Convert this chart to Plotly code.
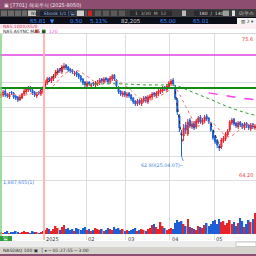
import plotly.graph_objects as go
import pandas as pd

# ---------------- data ----------------
month_start_idx = [21, 41, 60, 81, 102]
month_labels = ["2025", "02", "03", "04", "05"]

opens = [68.8,68.9,69.3,69.0,68.7,69.2,69.1,68.8,68.7,68.4,68.6,69.0,69.2,69.4,69.7,69.4,69.2,68.8,69.2,69.0,
         69.2,69.7,70.1,70.6,70.3,70.5,70.8,71.1,71.5,71.2,71.6,71.9,71.7,71.5,71.4,71.0,71.2,71.0,70.8,70.5,
         70.2,69.8,70.2,69.8,70.1,69.9,70.0,70.1,70.5,70.2,70.6,70.5,70.2,70.5,70.9,70.4,69.7,69.3,68.9,69.2,
         68.8,69.1,68.9,68.6,68.3,68.0,68.4,68.0,68.3,68.7,68.2,68.6,68.7,69.1,68.8,69.0,69.2,69.3,69.7,69.4,
         69.7,70.0,70.4,69.7,68.4,66.8,65.0,64.8,65.9,65.0,66.4,65.7,66.1,65.7,66.2,66.7,66.1,66.3,66.8,66.6,
         66.1,65.3,64.8,64.4,63.8,63.7,64.3,64.5,64.9,65.4,66.1,66.5,66.1,65.7,66.2,66.0,65.6,66.1,65.9,65.5,
         66.0,65.6]
closes = [69.0,69.2,68.9,68.8,69.0,69.1,68.7,68.6,68.4,68.7,69.0,69.3,69.5,69.6,69.4,69.1,68.9,69.0,69.1,69.3,
          69.6,70.2,70.5,70.4,70.6,70.8,71.2,71.4,71.3,71.7,71.8,71.6,71.4,71.3,71.2,71.1,70.9,70.7,70.4,70.1,
          69.9,70.1,70.0,69.9,70.0,70.1,70.2,70.4,70.3,70.5,70.4,70.2,70.6,70.8,70.5,69.8,69.2,69.0,69.1,68.9,
          69.0,68.8,68.5,68.2,68.0,68.3,68.1,68.4,68.6,68.3,68.7,68.8,69.0,68.9,69.1,69.3,69.4,69.6,69.5,69.8,
          70.1,70.3,70.0,68.6,67.2,65.6,64.9,65.6,65.4,66.2,65.8,66.0,65.6,66.3,66.6,66.2,66.4,66.7,66.5,66.2,
          65.4,64.6,64.2,63.9,63.6,64.4,64.6,65.0,65.3,66.2,66.4,66.0,65.8,66.1,65.9,65.7,66.0,65.8,65.6,65.9,
          65.7,65.8]
highs = [69.2,69.4,69.5,69.1,69.2,69.3,69.2,68.9,68.8,68.9,69.1,69.5,69.7,69.8,69.8,69.5,69.3,69.2,69.3,69.5,
         69.8,70.4,70.7,70.7,70.8,71.0,71.4,71.6,71.6,71.9,72.1,72.0,71.8,71.6,71.5,71.3,71.3,71.1,70.9,70.6,
         70.3,70.3,70.3,70.1,70.2,70.3,70.4,70.6,70.6,70.7,70.7,70.6,70.8,71.0,71.0,70.5,69.8,69.4,69.3,69.3,
         69.2,69.2,69.0,68.7,68.4,68.5,68.5,68.6,68.8,68.8,68.9,69.0,69.2,69.2,69.3,69.5,69.6,69.8,69.8,70.0,
         70.3,70.5,70.6,69.9,68.6,67.0,65.4,66.0,66.2,66.5,66.6,66.3,66.3,66.5,66.8,66.9,66.6,66.9,67.0,66.7,
         66.2,65.4,64.9,64.5,64.0,64.6,64.8,65.2,65.5,66.4,66.6,66.6,66.2,66.3,66.3,66.1,66.2,66.2,66.0,66.1,
         66.1,66.0]
lows = [68.6,68.7,68.7,68.6,68.5,68.9,68.5,68.4,68.2,68.3,68.5,68.8,69.0,69.2,69.2,68.9,68.7,68.6,68.9,68.8,
        69.0,69.5,69.9,70.2,70.1,70.3,70.6,70.9,71.1,71.0,71.4,71.4,71.2,71.1,71.0,70.8,70.7,70.5,70.2,69.9,
        69.7,69.6,69.8,69.6,69.8,69.7,69.8,69.9,70.1,70.0,70.2,70.0,70.0,70.3,70.3,69.6,69.0,68.8,68.7,68.7,
        68.6,68.6,68.3,68.0,67.8,67.8,67.9,67.8,68.1,68.1,68.0,68.4,68.5,68.7,68.6,68.8,69.0,69.1,69.3,69.2,
        69.5,69.8,69.8,68.4,66.9,65.2,62.8,64.3,65.0,64.8,65.6,65.5,65.4,65.5,66.0,66.0,65.9,66.1,66.3,66.0,
        65.2,64.4,64.0,63.6,63.3,63.5,64.1,64.3,64.7,65.2,65.9,65.8,65.6,65.5,65.7,65.5,65.4,65.6,65.4,65.3,
        65.5,65.4]
volumes_m = [0.2,0.1,0.2,0.3,0.1,0.2,0.2,0.3,0.2,0.1,0.2,0.3,0.2,0.2,0.1,0.3,0.2,0.2,0.1,0.2,0.3,
             0.4,0.6,0.5,0.3,0.5,0.8,0.6,0.4,0.7,0.9,0.5,0.6,0.4,0.5,0.3,0.6,0.5,0.4,0.6,0.7,
             0.4,0.5,0.3,0.4,0.6,0.5,0.4,0.5,0.3,0.4,0.6,0.5,0.4,0.7,0.5,0.6,0.4,0.5,0.3,0.4,
             0.3,0.4,0.5,0.6,0.3,0.4,0.5,0.4,0.3,0.5,0.6,0.9,1.0,0.7,0.5,1.2,0.8,0.6,0.4,0.5,
             0.6,0.5,1.1,1.4,1.2,1.3,1.0,0.8,1.5,0.7,0.6,0.5,0.4,0.8,0.7,0.6,0.9,1.1,0.8,1.0,1.3,1.4,
             1.0,1.5,1.2,1.3,0.9,1.1,1.4,1.0,1.2,0.8,1.1,1.6,1.3,0.7,1.0,1.4,1.2,1.5,2.1]

support_level = 69.6
resist_level = 72.9
trend1_x = [18.5, 29.5]
trend1_y = [69.3, 71.8]
trend2_x = [83, 86.5]
trend2_y = [69.3, 64.0]
trend3_x = [100, 104.5]
trend3_y = [66.0, 63.6]

header_quote = ["65.81", "▼", "0.50", "5.11%", "82,205", "65.00", "65.01"]

idx = list(range(len(closes)))
s = pd.Series(closes)
ma_short = s.rolling(10, min_periods=1).mean()
ma_mid = s.rolling(60, min_periods=40).mean()
ma_long = s.rolling(120, min_periods=100).mean()

UP = "#e8242b"
DN = "#1f5fd6"
vol_colors = [UP if c >= o else DN for o, c in zip(opens, closes)]

# ---------------- figure ----------------
H = 256.0
def py(p):
    return 1 - p / H
def px(p):
    return p / H

fig = go.Figure()

fig.add_trace(go.Bar(x=idx, y=volumes_m, marker=dict(color=vol_colors, line=dict(width=0)),
                     xaxis="x", yaxis="y2", showlegend=False, hoverinfo="skip"))

fig.add_trace(go.Scatter(x=idx, y=ma_long, mode="lines", line=dict(color="#ff3cf0", width=1.5, dash="dash"),
                         showlegend=False, hoverinfo="skip"))
fig.add_trace(go.Scatter(x=idx, y=ma_mid, mode="lines", line=dict(color="#2c9c2c", width=1, dash="dot"),
                         showlegend=False, hoverinfo="skip"))
fig.add_trace(go.Scatter(x=idx, y=ma_short, mode="lines", line=dict(color="#f27070", width=1, dash="dot"),
                         showlegend=False, hoverinfo="skip"))

for tx, ty in [(trend1_x, trend1_y), (trend2_x, trend2_y), (trend3_x, trend3_y)]:
    fig.add_trace(go.Scatter(x=tx, y=ty, mode="lines", line=dict(color="#222222", width=1, dash="dot"),
                             showlegend=False, hoverinfo="skip"))

fig.add_trace(go.Candlestick(x=idx, open=opens, high=highs, low=lows, close=closes,
                             increasing=dict(line=dict(color=UP, width=1), fillcolor=UP),
                             decreasing=dict(line=dict(color=DN, width=1), fillcolor=DN),
                             whiskerwidth=0, showlegend=False, hoverinfo="skip"))

shapes = []
def rect(x0, y0, x1, y1, color, line=None):
    shapes.append(dict(type="rect", xref="paper", yref="paper", x0=px(x0), x1=px(x1), y0=py(y1), y1=py(y0),
                       fillcolor=color, line=dict(width=0) if line is None else line, layer="above"))

# horizontal levels
shapes.append(dict(type="line", xref="paper", yref="y", x0=0, x1=1, y0=resist_level, y1=resist_level,
                   line=dict(color="#e040e0", width=1.5)))
shapes.append(dict(type="line", xref="paper", yref="y", x0=0, x1=1, y0=support_level, y1=support_level,
                   line=dict(color="#138a13", width=1.8)))
# year divider
shapes.append(dict(type="line", xref="x", yref="paper", x0=month_start_idx[0] - 0.5, x1=month_start_idx[0] - 0.5,
                   y0=py(240), y1=py(28), line=dict(color="#ffb4b4", width=2)))
# left green marker
shapes.append(dict(type="line", xref="paper", yref="paper", x0=px(1), x1=px(1), y0=py(240), y1=py(28),
                   line=dict(color="#7fd07f", width=1.5)))

# header chrome
rect(0, 0, 256, 9, "#8c4d70")
rect(0, 9, 256, 17, "#3b3b3d")
rect(0, 17, 256, 24, "#0c0f17")
rect(0, 24, 256, 29, "#fbeef2")
rect(0, 29, 256, 33.5, "#ffffff")
shapes.append(dict(type="line", xref="paper", yref="paper", x0=0, x1=1, y0=py(33.5), y1=py(33.5),
                   line=dict(color="#d8d8d8", width=1)))
# toolbar items
for x0, x1, c in [(1, 7, "#6a6a6a"), (8, 14, "#6a6a6a"), (15, 21, "#6a6a6a"), (22, 27, "#6a6a6a"),
                  (28, 36, "#c8c8c8"), (40, 76, "#1e2230"), (77, 84, "#d0d0d0"), (85, 87, "#555"),
                  (88, 92, "#d02020"), (95, 101, "#5a5a5a"), (103, 109, "#5a5a5a"), (111, 117, "#5a5a5a"),
                  (119, 125, "#5a5a5a"), (130, 172, "#2a2a2c"), (182, 186, "#bbbbbb"), (194, 222, "#2a2a2c"),
                  (223, 229, "#9a9a9a"), (232, 235, "#e0e0e0")]:
    rect(x0, 10.5, x1, 16, c)
rect(237, 18, 256, 24, "#f4f4f4")
# bottom chrome
rect(0, 241, 256, 247, "#ececec")
rect(236, 242, 256, 246.5, "#ffffff", line=dict(color="#9a9a9a", width=0.5))
rect(0, 247, 256, 254, "#d6d3cd")
rect(0, 254, 256, 256, "#8c4d70")
rect(0, 236, 12, 241, "#2f9e3a")

ann = []
def txt(x, y, t, color, size=5.5, anchor="left", weight="normal"):
    ann.append(dict(xref="paper", yref="paper", x=px(x), y=py(y), text=t, showarrow=False,
                    xanchor=anchor, yanchor="middle", font=dict(size=size, color=color,
                    family="DejaVu Sans, Arial", weight=weight)))

txt(2, 4.5, "▣ [7701] 해외주식 (2025-8050)", "#f2e6ee", 5)
txt(29, 13.3, "NVD", "#222222", 4.5)
txt(42, 13.3, "Ebook 1/1 [일]", "#9ab0d8", 4.5)
txt(133, 13.3, "1  3/30  M  12", "#aaaaaa", 4.5)
txt(197, 13.3, "180  /  140", "#dddddd", 4.5)
txt(237, 13.3, "마우스", "#cccccc", 4.5)
xs = [28, 48, 68, 88, 119, 158, 191]
cols = ["#3d8bff", "#3d8bff", "#3d8bff", "#3d8bff", "#d8d8d8", "#3d8bff", "#3d8bff"]
for x0, t, c in zip(xs, header_quote, cols):
    txt(x0, 20.6, t, c, 5.5)
txt(239, 21, "▥ 2 ▾", "#333333", 4.5)
txt(1, 26.6, "NAS:100X/X5/0", "#d23a5a", 4.5)
txt(1, 31.3, "NAS ASYNC MA5 ▣", "#333333", 4.5)
rect(35, 29.5, 38.5, 33, "#ff5a5a")
rect(42, 29.5, 45.5, 33, "#2fb82f")
txt(47, 31.3, "120", "#ff3cf0", 4.5)

txt(255, 39, "75.6", "#e43a3a", 5, anchor="right")
txt(255, 175, "64.20", "#e43a3a", 5, anchor="right")
txt(1, 182, "1,887,655(1)", "#3d7ee0", 4.8)
ann.append(dict(x=86, y=lows[86], xref="x", yref="y", text="62.80(25.04.07)─", showarrow=True,
                ax=3, ay=9, arrowhead=0, arrowcolor="#3d7ee0", arrowwidth=0.8,
                xanchor="right", yanchor="middle", font=dict(size=4.8, color="#3d7ee0", family="DejaVu Sans")))

for i, lab in zip(month_start_idx, month_labels):
    ann.append(dict(x=i - 0.5, y=py(239), xref="x", yref="paper", text=lab, showarrow=False,
                    xanchor="left", yanchor="middle", font=dict(size=5, color="#333333", family="DejaVu Sans")))
txt(1, 238.7, "일", "#ffffff", 4.5)
txt(1, 250.5, "NASDAQ 100 ▣  │ ▸ ─ 01:27:55 ─ 3:00", "#333333", 4.5)

fig.update_layout(
    width=256, height=256, margin=dict(l=0, r=0, t=0, b=0),
    paper_bgcolor="#ffffff", plot_bgcolor="#ffffff",
    shapes=shapes, annotations=ann, bargap=0.25,
    xaxis=dict(range=[-0.5, 121.5], domain=[0, 1], anchor="y", showticklabels=False, ticks="",
               tickvals=[i - 0.5 for i in month_start_idx[1:]], showgrid=True, gridcolor="#dedede",
               gridwidth=1, zeroline=False, rangeslider=dict(visible=False), fixedrange=True),
    yaxis=dict(domain=[py(240), py(28)], range=[54.4, 75.6], showticklabels=False, ticks="",
               tickvals=[70.2, 67.7, 65.3, 62.8, 60.4, 57.8], showgrid=True, gridcolor="#dedede",
               zeroline=False, fixedrange=True),
    yaxis2=dict(domain=[py(234), py(200)], range=[0, 3.4], showticklabels=False, showgrid=False,
                zeroline=False, fixedrange=True),
)

fig.write_html("out.html")
